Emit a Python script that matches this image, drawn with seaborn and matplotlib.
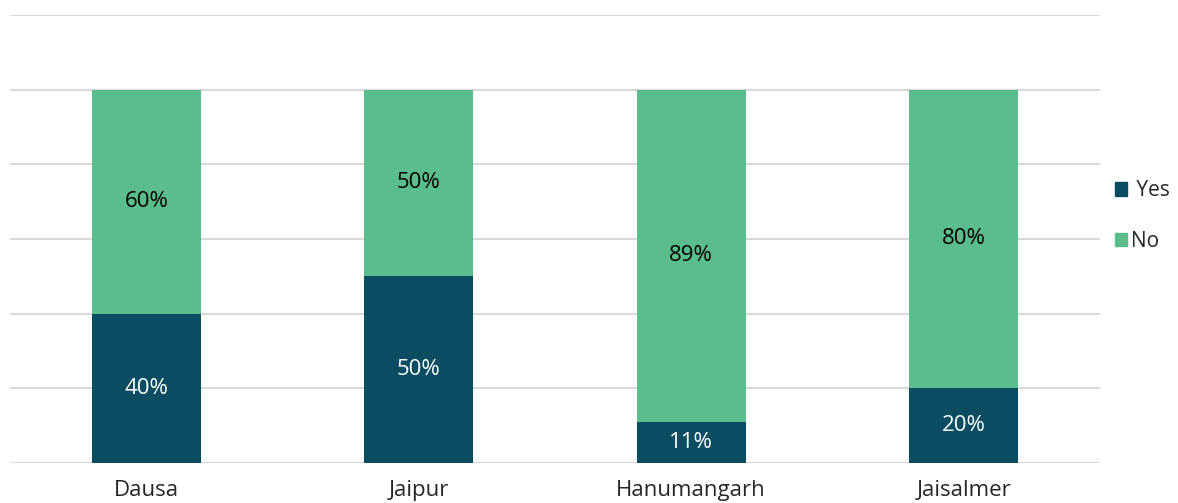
import matplotlib
matplotlib.use("Agg")
import matplotlib.pyplot as plt
import seaborn as sns
import pandas as pd
from matplotlib.patches import Patch

districts = ["Dausa", "Jaipur", "Hanumangarh", "Jaisalmer"]
yes_pct = [40, 50, 11, 20]
no_pct = [60, 50, 89, 80]

yes_color = "#0a4d63"
no_color = "#5bbd8c"

df = pd.DataFrame({"district": districts, "Yes": yes_pct, "No": no_pct})
df["total"] = df["Yes"] + df["No"]

sns.set_style("white")
plt.rcParams["font.family"] = ["Open Sans", "DejaVu Sans"]

fig = plt.figure(figsize=(11.78, 5.03), dpi=100)
ax = fig.add_axes([10 / 1178, 1 - 463 / 503, 1090 / 1178, 448 / 503])

# stacked: full bar in green, Yes part drawn over it
sns.barplot(data=df, x="district", y="total", color=no_color, width=0.4,
            saturation=1, linewidth=0, ax=ax)
sns.barplot(data=df, x="district", y="Yes", color=yes_color, width=0.4,
            saturation=1, linewidth=0, ax=ax)

for i, row in df.iterrows():
    ax.text(i, row["Yes"] / 2, f"{row['Yes']}%", ha="center", va="center",
            color="white", fontsize=16)
    ax.text(i, row["Yes"] + row["No"] / 2, f"{row['No']}%", ha="center",
            va="center", color="black", fontsize=16)

ax.set_ylim(0, 120)
ax.set_xlim(-0.5, 3.5)
ax.set_yticks(range(0, 121, 20))
ax.set_yticklabels([])
ax.yaxis.grid(True, color="#d9d9d9", linewidth=1.5)
ax.set_axisbelow(True)
ax.tick_params(axis="y", length=0)
ax.tick_params(axis="x", length=0, labelsize=16, pad=12)
ax.set_xlabel("")
ax.set_ylabel("")
sns.despine(ax=ax, left=True, bottom=True, top=True, right=True)

handles = [Patch(color=yes_color, label=" Yes"), Patch(color=no_color, label="No")]
fig.legend(handles=handles, loc="center left", bbox_to_anchor=(1100 / 1178, 1 - 216 / 503),
           frameon=False, fontsize=15, handlelength=0.6, handleheight=0.6,
           handletextpad=0.2, labelspacing=1.4, borderpad=0.2)

fig.savefig("out.png", dpi=100)
